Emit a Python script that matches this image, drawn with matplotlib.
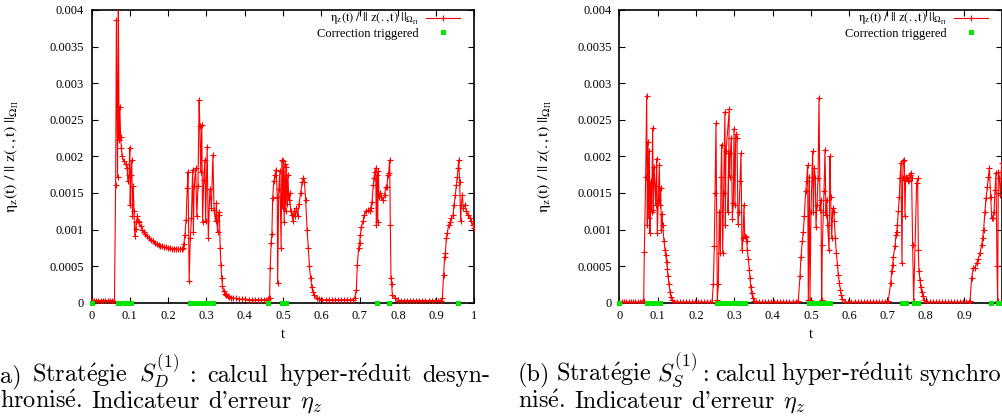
import matplotlib.pyplot as plt
from matplotlib.lines import Line2D
from matplotlib.ticker import FuncFormatter

plt.rcParams['font.family'] = 'serif'
plt.rcParams['font.serif'] = ['Liberation Serif', 'DejaVu Serif']
plt.rcParams['mathtext.fontset'] = 'stix'

RED = '#ff0000'
GREEN = '#00e600'

# ---- (a) desynchronised hyper-reduced computation ----
t_a = [
    0.000, 0.006, 0.012, 0.018, 0.024, 0.030, 0.036, 0.042, 0.048, 0.054, 0.060,
    0.063, 0.065, 0.068, 0.070, 0.072, 0.074, 0.076, 0.078, 0.080,
    0.085, 0.089, 0.093, 0.095, 0.098, 0.100, 0.101, 0.103, 0.105, 0.107,
    0.109, 0.111, 0.113, 0.115, 0.117, 0.120, 0.122,
    0.124, 0.128, 0.132, 0.136, 0.140, 0.145, 0.150, 0.155, 0.160, 0.165,
    0.170, 0.175, 0.180, 0.185, 0.190, 0.195, 0.200, 0.205, 0.210, 0.215,
    0.220, 0.225, 0.230, 0.235, 0.239,
    0.241, 0.244, 0.247, 0.250, 0.252, 0.255, 0.258, 0.261, 0.264, 0.266,
    0.268, 0.272, 0.275, 0.278, 0.281, 0.283, 0.285, 0.288, 0.290, 0.293,
    0.296, 0.298, 0.302, 0.305, 0.309, 0.313, 0.317, 0.320, 0.324, 0.326,
    0.329, 0.332, 0.334,
    0.336, 0.338, 0.340, 0.342, 0.345, 0.348, 0.352, 0.356, 0.360, 0.365,
    0.370, 0.378, 0.386, 0.394, 0.402, 0.410, 0.418, 0.426, 0.434, 0.442,
    0.450, 0.456, 0.461,
    0.465, 0.4665, 0.469, 0.471, 0.473, 0.476, 0.479, 0.482, 0.485, 0.486,
    0.489, 0.492, 0.495, 0.497, 0.499, 0.501, 0.503, 0.505, 0.507, 0.509,
    0.511, 0.513, 0.515, 0.517, 0.520, 0.523, 0.526, 0.529, 0.532, 0.535,
    0.538, 0.542, 0.546, 0.550, 0.553, 0.556, 0.559, 0.563, 0.566, 0.569,
    0.572, 0.575, 0.578, 0.582, 0.588, 0.595,
    0.603, 0.611, 0.619, 0.627, 0.635, 0.643, 0.651, 0.659, 0.667, 0.675, 0.683,
    0.687, 0.6915, 0.694, 0.6975, 0.700, 0.702, 0.7045, 0.709, 0.7115, 0.7176,
    0.722, 0.7263, 0.7289, 0.7324, 0.7358, 0.7376, 0.7393, 0.7419, 0.7437, 0.7454,
    0.7472, 0.749, 0.7506, 0.754, 0.7567, 0.761, 0.7654, 0.768, 0.7715, 0.7733,
    0.7759, 0.7785, 0.7802, 0.782, 0.7837, 0.7855, 0.7915,
    0.800, 0.808, 0.816, 0.824, 0.832, 0.840, 0.848, 0.856, 0.864, 0.872,
    0.880, 0.888, 0.896, 0.904, 0.912,
    0.916, 0.9195, 0.922, 0.924, 0.9264, 0.929, 0.9325, 0.936, 0.9395, 0.9439,
    0.9465, 0.950, 0.9526, 0.9552, 0.957, 0.9586, 0.9613, 0.9639, 0.9656, 0.9682,
    0.9708, 0.9743, 0.9787, 0.983, 0.9874, 0.9917, 0.9961, 1.000,
]
eta_a = [
    0.00003, 0.00003, 0.00003, 0.00003, 0.00003, 0.00003, 0.00003, 0.00003, 0.00003, 0.00003, 0.00003,
    0.00161, 0.00386, 0.00172, 0.00420, 0.00223, 0.00268, 0.00227, 0.00211, 0.00200,
    0.00193, 0.00189, 0.00184, 0.00166, 0.00175, 0.00212, 0.00134, 0.00175, 0.00195, 0.00119,
    0.00159, 0.00125, 0.00091, 0.00101, 0.00110, 0.00118, 0.00112,
    0.00110, 0.00105, 0.00100, 0.00097, 0.00094, 0.00091, 0.00088, 0.00086, 0.00084, 0.00082,
    0.00080, 0.00079, 0.00078, 0.00077, 0.00076, 0.00076, 0.00075, 0.00075, 0.00074, 0.00074,
    0.00074, 0.00073, 0.00073, 0.00073, 0.00075,
    0.00080, 0.00093, 0.00113, 0.00157, 0.00179, 0.00030, 0.00088, 0.00116, 0.00182, 0.00097,
    0.00159, 0.00184, 0.00118, 0.00160, 0.00277, 0.00242, 0.00179, 0.00243, 0.00110, 0.00168,
    0.00195, 0.00111, 0.00213, 0.00088, 0.00155, 0.00130, 0.00202, 0.00126, 0.00111, 0.00136,
    0.00097, 0.00124, 0.00120,
    0.00075, 0.00052, 0.00034, 0.00023, 0.00016, 0.00012, 0.00010, 0.00009, 0.00008, 0.00007,
    0.00006, 0.00006, 0.00005, 0.00005, 0.00005, 0.00004, 0.00004, 0.00004, 0.00004, 0.00004,
    0.00004, 0.00004, 0.00005,
    0.00006, 0.00047, 0.00082, 0.00094, 0.00143, 0.00166, 0.00175, 0.00182, 0.00145, 0.00027,
    0.00155, 0.00180, 0.00075, 0.00195, 0.00130, 0.00193, 0.00110, 0.00190, 0.00125, 0.00185,
    0.00135, 0.00175, 0.00140, 0.00150, 0.00125, 0.00120, 0.00112, 0.00125, 0.00118, 0.00130,
    0.00118, 0.00135, 0.00150, 0.00165, 0.00171, 0.00165, 0.00140, 0.00100, 0.00075, 0.00050,
    0.00034, 0.00022, 0.00014, 0.00010, 0.00007, 0.00005,
    0.00004, 0.00004, 0.00004, 0.00004, 0.00004, 0.00004, 0.00004, 0.00004, 0.00004, 0.00004, 0.00004,
    0.00006, 0.00018, 0.00052, 0.00075, 0.00082, 0.00093, 0.00104, 0.00111, 0.00120, 0.00125,
    0.00126, 0.00125, 0.00130, 0.00138, 0.00161, 0.00170, 0.00179, 0.00184, 0.00106, 0.00175,
    0.00110, 0.00180, 0.00145, 0.00150, 0.00145, 0.00140, 0.00147, 0.00158, 0.00158, 0.00174,
    0.00177, 0.00195, 0.00106, 0.00034, 0.00025, 0.00011, 0.00007,
    0.00003, 0.00003, 0.00003, 0.00003, 0.00003, 0.00003, 0.00003, 0.00003, 0.00003, 0.00003,
    0.00003, 0.00003, 0.00003, 0.00003, 0.00003,
    0.00006, 0.00038, 0.00063, 0.00068, 0.00088, 0.00095, 0.00106, 0.00110, 0.00116, 0.00120,
    0.00134, 0.00147, 0.00161, 0.00172, 0.00184, 0.00195, 0.00165, 0.00111, 0.00134, 0.00147,
    0.00130, 0.00134, 0.00125, 0.00120, 0.00116, 0.00111, 0.00106, 0.00102,
]
# runs of time steps where the correction was triggered (first, last)
corr_a = [(0.0, 0.0), (0.068, 0.103), (0.257, 0.316), (0.461, 0.461),
          (0.497, 0.508), (0.746, 0.746), (0.777, 0.777), (0.958, 0.958)]

# ---- (b) synchronised hyper-reduced computation ----
t_b = [
    0.000, 0.006, 0.012, 0.018, 0.024, 0.030, 0.036, 0.042, 0.048, 0.054, 0.060,
    0.0634, 0.0651, 0.0686, 0.0712, 0.0729, 0.0747, 0.0764, 0.0781, 0.0799, 0.0816,
    0.0842, 0.0868, 0.0886, 0.0903, 0.0929, 0.0947, 0.0973, 0.099, 0.1016, 0.1042,
    0.1060, 0.1077, 0.1095, 0.1112, 0.113, 0.1164, 0.119, 0.1208, 0.1234, 0.1252,
    0.1269, 0.1295, 0.1321, 0.1345, 0.1365,
    0.142, 0.150, 0.158, 0.166, 0.174, 0.182, 0.190, 0.198, 0.206, 0.214,
    0.222, 0.230, 0.236, 0.242,
    0.2452, 0.2478, 0.2496, 0.2522, 0.2557, 0.2583, 0.2609, 0.2635, 0.2653, 0.267,
    0.2696, 0.2722, 0.2755, 0.2766, 0.2783, 0.2870, 0.2836, 0.2853, 0.2879, 0.2896,
    0.2922, 0.2949, 0.2975, 0.2992, 0.3018, 0.3036, 0.307, 0.3097, 0.3123, 0.3149,
    0.3175, 0.3201, 0.3227, 0.3253, 0.3271, 0.3297, 0.3323, 0.3340, 0.3366, 0.3392,
    0.341, 0.3427, 0.3453, 0.3479, 0.3514,
    0.356, 0.364, 0.372, 0.380, 0.388, 0.396, 0.404, 0.412, 0.420, 0.428,
    0.436, 0.444, 0.452, 0.460,
    0.4671, 0.4715, 0.4741, 0.4776, 0.4802, 0.4828, 0.4863, 0.4889, 0.4915, 0.4933,
    0.4959, 0.4976, 0.5002, 0.5046, 0.5064, 0.509, 0.5116, 0.5133, 0.516, 0.5186,
    0.5212, 0.5238, 0.5264, 0.5281, 0.5299, 0.5325, 0.5342, 0.5368, 0.5394, 0.5412,
    0.5438, 0.5473, 0.5499, 0.5516, 0.5543, 0.5569, 0.5595, 0.5612, 0.5638, 0.5665,
    0.5691, 0.5717, 0.5743, 0.5769, 0.5795, 0.5821,
    0.590, 0.598, 0.606, 0.614, 0.622, 0.630, 0.638, 0.646, 0.654, 0.662,
    0.670, 0.678, 0.686, 0.694, 0.700,
    0.7021, 0.7083, 0.7109, 0.7135, 0.7152, 0.7196, 0.7222, 0.7239, 0.7257, 0.7283,
    0.7309, 0.7326, 0.7352, 0.7378, 0.7396, 0.7413, 0.7439, 0.7456, 0.7474, 0.750,
    0.7526, 0.7552, 0.7578, 0.7604, 0.763, 0.7656, 0.7683, 0.7761, 0.7787, 0.7805,
    0.7822, 0.7848, 0.7866, 0.7892, 0.7918, 0.7953,
    0.802, 0.810, 0.818, 0.826, 0.834, 0.842, 0.850, 0.858, 0.866, 0.874,
    0.882, 0.890, 0.898, 0.906, 0.912,
    0.9154, 0.9197, 0.924, 0.9284, 0.9327, 0.9371, 0.9415, 0.9458, 0.9484, 0.9510,
    0.9546, 0.9572, 0.9607, 0.9633, 0.9659, 0.9694, 0.972, 0.9746, 0.9781, 0.9807,
    0.9833, 0.9859, 0.9876, 0.9894, 0.992, 0.9946, 0.9981,
]
eta_b = [
    0.00001, 0.00001, 0.00001, 0.00001, 0.00001, 0.00001, 0.00001, 0.00001, 0.00001, 0.00001, 0.00001,
    0.00002, 0.00069, 0.00172, 0.00283, 0.00106, 0.00220, 0.00116, 0.00207, 0.00095, 0.00166,
    0.00124, 0.00239, 0.00127, 0.00186, 0.00160, 0.00134, 0.00197, 0.00095, 0.00140, 0.00188,
    0.00134, 0.00157, 0.00100, 0.00121, 0.00106, 0.00084, 0.00072, 0.00065, 0.00056, 0.00046,
    0.00036, 0.00025, 0.00015, 0.00008, 0.00004,
    0.00001, 0.00001, 0.00001, 0.00001, 0.00001, 0.00001, 0.00001, 0.00001, 0.00001, 0.00001,
    0.00001, 0.00001, 0.00001, 0.00001,
    0.00025, 0.00077, 0.00150, 0.00245, 0.00004, 0.00025, 0.00124, 0.00068, 0.00172, 0.00216,
    0.00068, 0.00150, 0.00261, 0.00106, 0.00207, 0.00265, 0.00124, 0.00205, 0.00172, 0.00205,
    0.00225, 0.00115, 0.00136, 0.00238, 0.00134, 0.00230, 0.00225, 0.00108, 0.00124, 0.00166,
    0.00204, 0.00072, 0.00088, 0.00134, 0.00091, 0.00090, 0.00085, 0.00072, 0.00060, 0.00045,
    0.00034, 0.00022, 0.00013, 0.00007, 0.00003,
    0.00001, 0.00001, 0.00001, 0.00001, 0.00001, 0.00001, 0.00001, 0.00001, 0.00001, 0.00001,
    0.00001, 0.00001, 0.00001, 0.00001,
    0.00003, 0.00036, 0.00063, 0.00084, 0.00097, 0.00118, 0.00152, 0.00166, 0.00188, 0.00004,
    0.00172, 0.00004, 0.00124, 0.00207, 0.00124, 0.00184, 0.00170, 0.00104, 0.00134, 0.00170,
    0.00280, 0.00126, 0.00140, 0.00004, 0.00079, 0.00124, 0.00152, 0.00209, 0.00120, 0.00141,
    0.00106, 0.00072, 0.00200, 0.00145, 0.00088, 0.00129, 0.00124, 0.00111, 0.00088, 0.00068,
    0.00052, 0.00038, 0.00027, 0.00018, 0.00011, 0.00005,
    0.00001, 0.00001, 0.00001, 0.00001, 0.00001, 0.00001, 0.00001, 0.00001, 0.00001, 0.00001,
    0.00001, 0.00001, 0.00001, 0.00001, 0.00001,
    0.00003, 0.00027, 0.00043, 0.00052, 0.00063, 0.00077, 0.00093, 0.00097, 0.00106, 0.00125,
    0.00145, 0.00170, 0.00191, 0.00054, 0.00170, 0.00193, 0.00195, 0.00118, 0.00172, 0.00170,
    0.00166, 0.00168, 0.00175, 0.00177, 0.00170, 0.00079, 0.00003, 0.00163, 0.00170, 0.00072,
    0.00043, 0.00031, 0.00022, 0.00015, 0.00009, 0.00004,
    0.00001, 0.00001, 0.00001, 0.00001, 0.00001, 0.00001, 0.00001, 0.00001, 0.00001, 0.00001,
    0.00001, 0.00001, 0.00001, 0.00001, 0.00001,
    0.00003, 0.00034, 0.00047, 0.00048, 0.00054, 0.00060, 0.00068, 0.00079, 0.00088, 0.00100,
    0.00124, 0.00143, 0.00158, 0.00172, 0.00184, 0.00145, 0.00116, 0.00116, 0.00124, 0.00154,
    0.00177, 0.00050, 0.00003, 0.00179, 0.00170, 0.00147, 0.00191,
]
corr_b = [(0.0, 0.0), (0.071, 0.106), (0.254, 0.327), (0.494, 0.550),
          (0.737, 0.748), (0.768, 0.780), (0.969, 0.969), (0.988, 1.0)]

ylabel = r'$\mathrm{\eta_z(t)\ /\ ||\ z(.,t)\ ||_{\Omega_\Pi}}$'
leg_labels = [ylabel, 'Correction triggered']

E = r'$\mathrm{\acute{e}}$'
cap_a = [["a)", "Strat" + E + "gie", r"$S_D^{(1)}$", ":", "calcul", "hyper-r" + E + "duit", "desyn-"],
         ["hronis" + E + ".", "Indicateur", "d'erreur", r"$\eta_z$"]]
cap_b = [["(b)", "Strat" + E + "gie", r"$S_S^{(1)}$", ":", "calcul", "hyper-r" + E + "duit", "synchro"],
         ["nis" + E + ".", "Indicateur", "d'erreur", r"$\eta_z$"]]

W, H = 1003, 420
CAP_FS = 17.5
fig = plt.figure(figsize=(W / 100, H / 100), dpi=100)


def panel(left_px, t, eta, runs, ylab_x, last_xlabel=True):
    ax = fig.add_axes([left_px / W, (H - 302.7) / H, 383 / W, 292.7 / H])
    ax.plot(t, eta, color=RED, lw=0.8, marker='+', ms=4.5, mew=0.8, zorder=3)
    for s, e in runs:
        ax.plot([s, e], [0, 0], color=GREEN, lw=3.6, solid_capstyle='butt',
                marker='s', ms=3.6, mew=0, zorder=4, clip_on=False)
    ax.set_xlim(0, 1)
    ax.set_ylim(0, 0.004)
    ax.set_xticks([i / 10 for i in range(11)])
    ax.set_yticks([i * 0.0005 for i in range(9)])

    def xfmt(v, p):
        if v > 0.99 and not last_xlabel:
            return ''
        return '%g' % round(v, 6)
    ax.xaxis.set_major_formatter(FuncFormatter(xfmt))
    ax.yaxis.set_major_formatter(FuncFormatter(lambda v, p: '%g' % round(v, 6)))
    ax.tick_params(direction='in', length=4, width=0.8, top=True, right=True,
                   labelsize=9, pad=5.5)
    for sp in ax.spines.values():
        sp.set_linewidth(1.2)
    ax.set_xlabel('t', fontsize=10, labelpad=4)
    ax.set_ylabel(ylabel, fontsize=11.5)
    ax.yaxis.set_label_coords(ylab_x, 0.5)
    handles = [Line2D([], [], color=RED, lw=0.8, marker='+', ms=4.5, mew=0.8),
               Line2D([], [], color=GREEN, ls='none', marker='s', ms=3.6, mew=0)]
    ax.legend(handles, leg_labels, loc='upper right', bbox_to_anchor=(0.962, 0.997),
              frameon=False, markerfirst=False, handlelength=2.7, handletextpad=0.6,
              labelspacing=0.05, borderpad=0, borderaxespad=0, fontsize=9, numpoints=1)
    return ax


panel(91.5, t_a, eta_a, corr_a, -0.185)
panel(619.4, t_b, eta_b, corr_b, -0.17, last_xlabel=False)

renderer = fig.canvas.get_renderer()


def caption_line(words, x0, baseline, x1=None):
    # x1 given: spread the words to end at x1 (justified line), else normal spaces
    texts = [fig.text(0, (H - baseline) / H, w, fontsize=CAP_FS, family='cmr10',
                      math_fontfamily='cm', va='baseline', ha='left') for w in words]
    widths = [tx.get_window_extent(renderer).width for tx in texts]
    if x1 is None:
        gap = 0.36 * CAP_FS * 100 / 72
    else:
        gap = (x1 - x0 - sum(widths)) / (len(words) - 1)
    x = x0
    for tx, w in zip(texts, widths):
        tx.set_x(x / W)
        x += w + gap


caption_line(cap_a[0], 0, 382, 490)
caption_line(cap_a[1], 0, 408)
caption_line(cap_b[0], 518, 381, 1001)
caption_line(cap_b[1], 518, 408)

fig.savefig('out.png', dpi=100)
